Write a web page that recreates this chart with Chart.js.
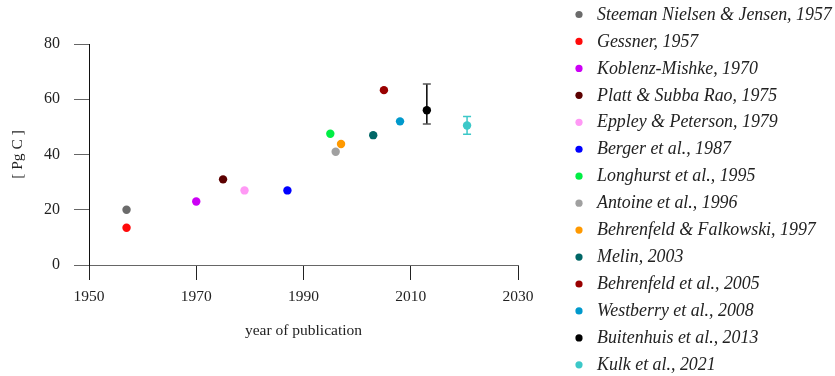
<!DOCTYPE html>
<html>
<head>
<meta charset="utf-8">
<script src="https://cdn.jsdelivr.net/npm/chart.js@4.4.1/dist/chart.umd.min.js"></script>
<style>
  html, body { margin: 0; padding: 0; background: #fff; }
  #wrap { width: 835px; height: 376px; }
</style>
</head>
<body>
<div id="wrap"><canvas id="myChart" width="835" height="376"></canvas></div>
<script>
// studies
var studies = [
    "Steeman Nielsen & Jensen, 1957",
    "Gessner, 1957",
    "Koblenz-Mishke, 1970",
    "Platt & Subba Rao, 1975",
    "Eppley & Peterson, 1979",
    "Berger et al., 1987",
    "Longhurst et al., 1995",
    "Antoine et al., 1996",
    "Behrenfeld & Falkowski, 1997",
    "Melin, 2003",
    "Behrenfeld et al., 2005",
    "Westberry et al., 2008",
    "Buitenhuis et al., 2013",
    "Kulk et al., 2021"
];
var years = [1957, 1957, 1970, 1975, 1979, 1987, 1995, 1996, 1997, 2003, 2005, 2008, 2013, 2020.5];
var values = [20, 13.5, 23, 31, 27, 27, 47.5, 41, 43.8, 47, 63.3, 52, 56, 50.5];
var errLow = [null, null, null, null, null, null, null, null, null, null, null, null, 51, 47.3];
var errHigh = [null, null, null, null, null, null, null, null, null, null, null, null, 65.5, 53.8];
var colors = ['#6b6b6b', '#ff0a0a', '#cc00f5', '#5c0000', '#ff99f5', '#0000ff', '#00ee44',
              '#a0a0a0', '#ff9900', '#006666', '#990000', '#0099cc', '#000000', '#3cc8c8'];
var capColors = [null, null, null, null, null, null, null, null, null, null, null, null, '#555555', '#3cc8c8'];

var xTicks = [1950, 1970, 1990, 2010, 2030];
var yTicks = [0, 20, 40, 60, 80];

var datasets = [];
for (var i = 0; i < studies.length; i++) {
    datasets.push({
        label: studies[i],
        data: [{x: years[i], y: values[i]}],
        backgroundColor: colors[i],
        borderWidth: 0,
        pointRadius: 4.2,
        pointHoverRadius: 4.2
    });
}

// vertical error bars, drawn under the dots
var errorBars = {
    id: 'errorBars',
    beforeDatasetsDraw: function(chart) {
        var ctx = chart.ctx;
        var xs = chart.scales.x, ys = chart.scales.y;
        ctx.save();
        for (var i = 0; i < errLow.length; i++) {
            if (errLow[i] == null) continue;
            var px = xs.getPixelForValue(years[i]);
            var top = ys.getPixelForValue(errHigh[i]);
            var bot = ys.getPixelForValue(errLow[i]);
            ctx.lineWidth = 1.5;
            ctx.strokeStyle = colors[i];
            ctx.beginPath();
            ctx.moveTo(px, top);
            ctx.lineTo(px, bot);
            ctx.stroke();
            ctx.strokeStyle = capColors[i];
            ctx.beginPath();
            ctx.moveTo(px - 4, top); ctx.lineTo(px + 4, top);
            ctx.moveTo(px - 4, bot); ctx.lineTo(px + 4, bot);
            ctx.stroke();
        }
        ctx.restore();
    }
};

// legend on the right, one row per study
var sideLegend = {
    id: 'sideLegend',
    afterDraw: function(chart) {
        var ctx = chart.ctx;
        var sets = chart.data.datasets;
        ctx.save();
        // size the italic font so the longest label spans like the original
        var size = 15;
        ctx.font = 'italic ' + size + 'px "Liberation Serif"';
        var w = ctx.measureText(sets[0].label).width;
        size = Math.min(size * 235 / w, 18);
        ctx.font = 'italic ' + size.toFixed(2) + 'px "Liberation Serif"';
        ctx.textBaseline = 'middle';
        ctx.textAlign = 'left';
        for (var i = 0; i < sets.length; i++) {
            var y = 14.5 + i * 26.95;
            ctx.fillStyle = sets[i].backgroundColor;
            ctx.beginPath();
            ctx.arc(579, y, 3.6, 0, Math.PI * 2);
            ctx.fill();
            ctx.fillStyle = '#222';
            ctx.fillText(sets[i].label, 597, y + 0.5);
        }
        ctx.restore();
    }
};

var plainYear = function(v) { return String(v); };

var ctx = document.getElementById('myChart').getContext('2d');
var chart = new Chart(ctx, {
    type: 'scatter',
    data: { datasets: datasets },
    plugins: [errorBars, sideLegend],
    options: {
        responsive: false,
        animation: false,
        layout: { padding: { left: 0, top: 44, right: 317, bottom: 0 } },
        plugins: {
            legend: { display: false },
            tooltip: { enabled: false }
        },
        scales: {
            x: {
                type: 'linear',
                min: 1950,
                max: 2030,
                afterFit: function(scale) { scale.height = 111; },
                afterBuildTicks: function(scale) {
                    scale.ticks = xTicks.map(function(v) { return {value: v}; });
                },
                border: { display: true, color: '#666', width: 1 },
                grid: { drawOnChartArea: false, tickLength: 15, color: '#222', lineWidth: 1 },
                ticks: {
                    padding: 8,
                    color: '#222',
                    callback: plainYear,
                    font: { family: '"Liberation Serif"', size: 15.5 }
                },
                title: {
                    display: true,
                    text: 'year of publication',
                    color: '#222',
                    font: { family: '"Liberation Serif"', size: 15.5 },
                    padding: { top: 0, bottom: 36 }
                }
            },
            y: {
                min: 0,
                max: 80,
                afterFit: function(scale) { scale.width = 89; },
                afterBuildTicks: function(scale) {
                    scale.ticks = yTicks.map(function(v) { return {value: v}; });
                },
                border: { display: true, color: '#111', width: 1 },
                grid: { drawOnChartArea: false, tickLength: 15, color: '#666', lineWidth: 1 },
                ticks: {
                    padding: 14,
                    color: '#222',
                    font: { family: '"Liberation Serif"', size: 16 }
                },
                title: {
                    display: true,
                    text: '[ Pg C ]',
                    color: '#222',
                    font: { family: '"Liberation Serif"', size: 15.5 },
                    padding: { top: 9, bottom: 0 }
                }
            }
        }
    }
});
</script>
</body>
</html>
